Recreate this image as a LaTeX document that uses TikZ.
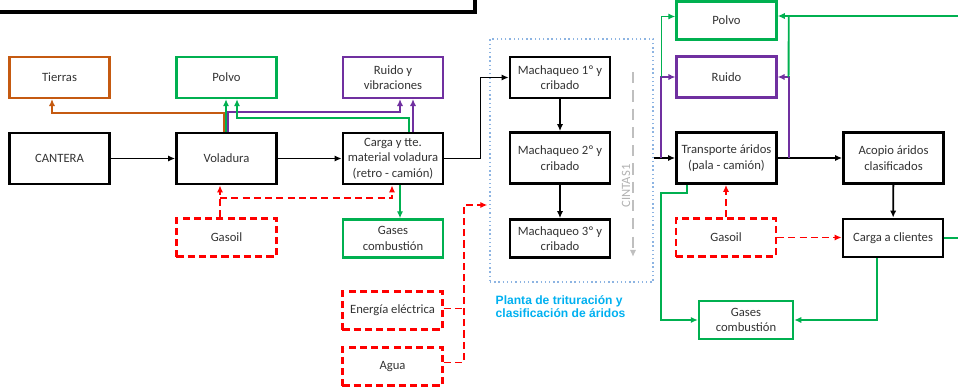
\documentclass[tikz,border=0pt]{standalone}
\usepackage{fontspec}
\setmainfont{Carlito}
\newfontfamily\labelfont{Liberation Sans}
\usetikzlibrary{arrows.meta}
\usetikzlibrary{calc}
\usetikzlibrary{positioning}
\definecolor{brnc}{RGB}{197,90,17}
\definecolor{grnc}{RGB}{0,176,80}
\definecolor{prpc}{RGB}{112,48,160}
\definecolor{redc}{RGB}{255,0,0}
\definecolor{bluec}{RGB}{0,176,240}
\definecolor{dotc}{RGB}{141,180,226}

\begin{document}
\begin{tikzpicture}[
	x=0.025cm, y=-0.025cm,
	> = {Latex[length=5pt,width=4.5pt]},
	every node/.style = {font=\fontsize{9}{11}\selectfont, text=black!80, align=center, inner sep=1pt, minimum width=2.5cm},
	tall/.style = {minimum height=1.275cm},
	mid/.style = {minimum height=1.025cm},
	low/.style = {minimum height=0.95cm},
	blkbox/.style = {draw, line width=2pt},
	grnbox/.style = {draw=grnc, line width=1.7pt},
	prpbox/.style = {draw=prpc, line width=1.5pt},
	brnbox/.style = {draw=brnc, line width=1.5pt},
	rdbox/.style = {draw=redc, line width=1.5pt, dash pattern=on 5pt off 3pt},
	flow/.style = {->, line width=1.3pt},
	grnline/.style = {->, draw=grnc, line width=1.3pt},
	prpline/.style = {->, draw=prpc, line width=1.3pt},
	brnline/.style = {->, draw=brnc, line width=1.3pt},
	rdline/.style = {->, draw=redc, line width=1.4pt, dash pattern=on 5pt off 3pt},
	cintas/.style = {->, draw=black!25, line width=1.2pt, dash pattern=on 8pt off 5pt}
	]
	\useasboundingbox (0,0) rectangle (958,387);
	\draw[line width=2.2pt] (0,12) -| (475,0);

	\coordinate (cintop) at (633,72);
	\coordinate (cinbot) at (633,257);
	\coordinate (outR) at (958,16);

	\node[brnbox,mid] (tierras) at (59.5,77.5) {Tierras};
	\node[grnbox,mid] (polvoA) at (226.5,77.5) {Polvo};
	\node[prpbox,mid] (ruidoA) at (393,77.5) {Ruido y\\vibraciones};
	\node[blkbox,tall] (cantera) at (59.5,158.5) {CANTERA};
	\node[blkbox,tall] (voladura) at (226.5,158.5) {Voladura};
	\node[blkbox,tall] (carga) at (393,158.5) {Carga y tte.\\material voladura\\(retro - camión)};
	\node[rdbox,low] (gasoilA) at (226.5,237.5) {Gasoil};
	\node[grnbox,low] (gasesA) at (393,238.5) {Gases\\combustión};
	\node[rdbox,low] (energia) at (392.5,310.5) {Energía eléctrica};
	\node[rdbox,low] (agua) at (392.5,366.5) {Agua};

	\node[draw=dotc, dotted, line width=1pt, minimum width=4.075cm, minimum height=6.075cm] (planta) at (571.5,160.5) {};
	\node[blkbox,mid] (mach1) at (560,77.5) {Machaqueo 1º y\\cribado};
	\node[blkbox,tall] (mach2) at (560,158) {Machaqueo 2º y\\cribado};
	\node[blkbox,low] (mach3) at (560,238.5) {Machaqueo 3º y\\cribado};
	\node[rotate=90, text=black!30, minimum width=0pt] (cintaslbl) at (626,186) {CINTAS1};
	\node[anchor=west, align=left, minimum width=0pt, text=bluec, font=\labelfont\bfseries\fontsize{8.6}{9.2}\selectfont] (plantalbl) at (494,307) {Planta de trituración y\\clasificación de áridos};

	\node[grnbox,low] (polvoB) at (726.5,20.5) {Polvo};
	\node[prpbox,mid] (ruidoB) at (726.5,77) {Ruido};
	\node[blkbox,tall] (transporte) at (726.5,158) {Transporte áridos\\(pala - camión)};
	\node[blkbox,tall] (acopio) at (893.5,158) {Acopio áridos\\clasificados};
	\node[rdbox,low] (gasoilB) at (726,237.5) {Gasoil};
	\node[blkbox,low] (clientes) at (893,238) {Carga a clientes};
	\node[grnbox,low,minimum width=2.35cm] (gasesB) at (746,320) {Gases\\combustión};

	\draw[flow] (cantera) -- (voladura);
	\draw[flow] (voladura) -- (carga);
	\draw[brnline] ($(voladura.north)+(-2.5,0)$) -- ++(0,-19) -| ($(tierras.south)+(-7.5,0)$);
	\draw[grnline] ($(voladura.north)+(-0.5,0)$) -- ($(polvoA.south)+(-0.5,0)$);
	\draw[prpline] ($(voladura.north)+(1.5,0)$) -- ++(0,-20) -| ($(ruidoA.south)+(7,0)$);
	\draw[grnline] ($(carga.north)+(16,0)$) -- ++(0,-14) -| ($(polvoA.south)+(10.5,0)$);
	\draw[prpline] ($(carga.north)+(20,0)$) -- ($(ruidoA.south)+(20,0)$);
	\draw[grnline] ($(carga.south)+(7,0)$) -- ($(gasesA.north)+(7,0)$);
	\draw[rdline] ($(gasoilA.north)+(-6.5,0)$) -- ($(voladura.south)+(-6.5,0)$);
	\draw[rdline] ($(gasoilA.north)+(-6.5,-19)$) -| ($(carga.south)+(-1,0)$);

	\draw[flow] (carga.east) -- ++(36,0) |- (mach1.west);
	\draw[flow] (mach1) -- (mach2);
	\draw[flow] (mach2) -- (mach3);
	\draw[rdline] ($(agua.east)+(0,-4)$) -- ++(20,0) |- ($(planta.west)+(-2,44.5)$);
	\draw[rdline,-] ($(energia.east)+(0,-2)$) -- ++(20,0);
	\draw[cintas] (cintop) -- (cinbot);

	\draw[flow] (planta.east |- transporte.west) -- (transporte.west);
	\draw[prpline] ($(transporte.west)+(-14,0)$) |- (ruidoB.west);
	\draw[grnline] ($(ruidoB.west)+(-14,0)$) |- ($(polvoB.west)+(0,-4)$);
	\draw[flow] (transporte) -- (acopio);
	\draw[prpline] ($(transporte.east)+(11,0)$) |- (ruidoB.east);
	\draw[grnline,-] ($(ruidoB.east)+(11,0)$) -- ($(polvoB.east)+(11,-4)$);
	\draw[grnline] (outR) -- (outR -| polvoB.east);
	\draw[grnline,-] (clientes.east) -- (clientes.east -| outR);
	\draw[flow] (acopio) -- (clientes);
	\draw[rdline] (gasoilB.north) -- (gasoilB.north |- transporte.south);
	\draw[rdline] (gasoilB.east) -- (gasoilB.east -| clientes.west);
	\draw[grnline] ($(transporte.south)+(-39.5,0)$) -- ++(0,8) -| ($(gasesB.west)+(-37,0)$) -- (gasesB.west);
	\draw[grnline] ($(clientes.south)+(-16,0)$) |- (gasesB.east);
\end{tikzpicture}
\end{document}
